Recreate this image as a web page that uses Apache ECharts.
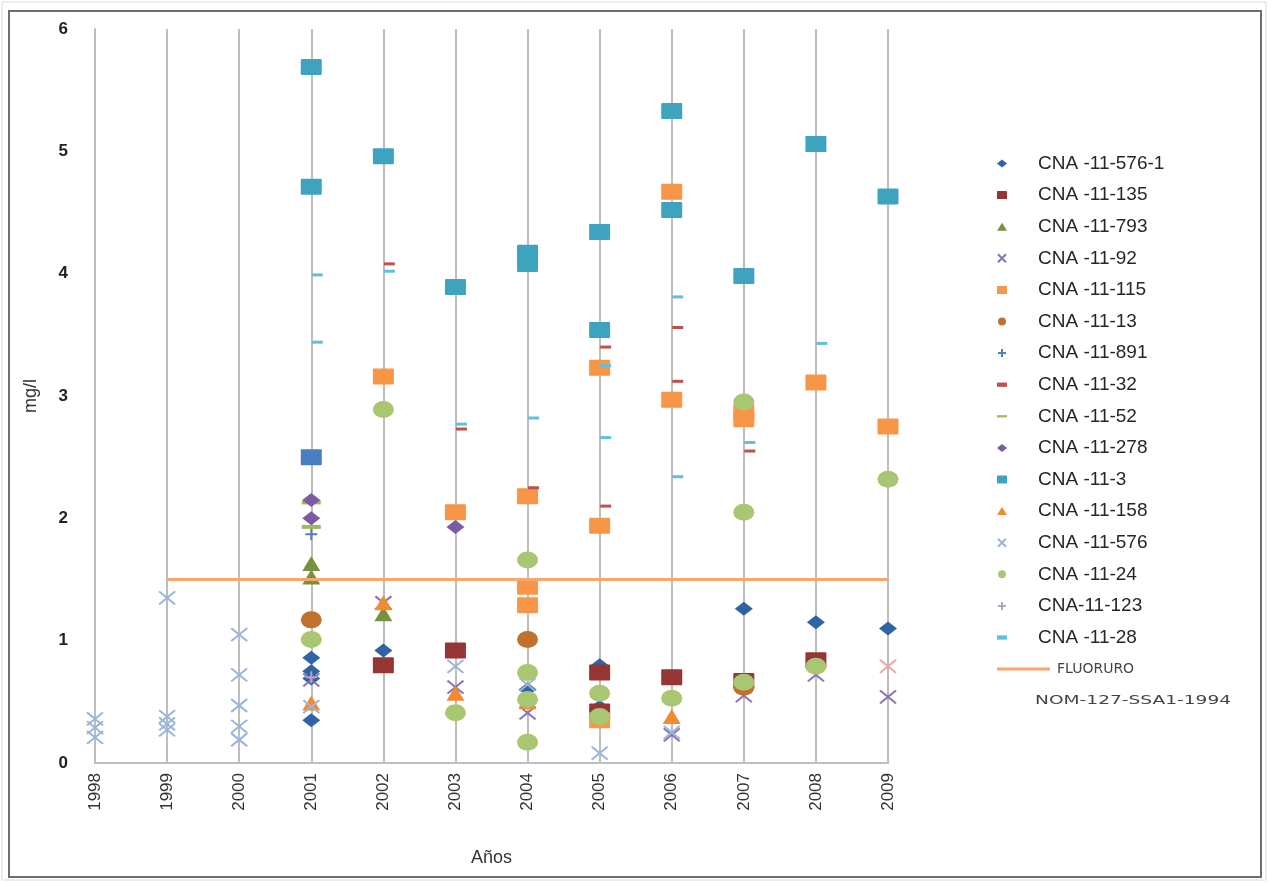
<!DOCTYPE html>
<html>
<head>
<meta charset="utf-8">
<script src="https://cdn.jsdelivr.net/npm/echarts@6/dist/echarts.min.js"></script>
<style>
  html, body { margin: 0; background: #fff; }
  #chart { width: 1269px; height: 883px; }
</style>
</head>
<body>
<div id="chart"></div>
<script>
// mediciones por pozo: [año, mg/l]
const cna576_1 = [[2001, 0.86], [2001, 0.75], [2001, 0.69], [2001, 0.35], [2002, 0.92], [2004, 0.6], [2005, 0.8], [2005, 0.46], [2007, 1.26], [2008, 1.15], [2009, 1.1]];
const cna135 = [[2002, 0.8], [2003, 0.92], [2005, 0.74], [2005, 0.42], [2006, 0.7], [2007, 0.67], [2008, 0.84]];
const cna793 = [[2001, 1.63], [2001, 1.52], [2002, 1.22]];
const cna92 = [[2001, 0.68], [2002, 1.31], [2003, 0.62], [2004, 0.41], [2006, 0.23], [2007, 0.55], [2008, 0.72], [2009, 0.54]];
const cna115 = [[2002, 3.16], [2003, 2.05], [2004, 2.18], [2004, 1.44], [2004, 1.29], [2005, 3.23], [2005, 1.94], [2005, 0.35], [2006, 4.67], [2006, 2.97], [2007, 2.87], [2007, 2.81], [2008, 3.11], [2009, 2.75]];
const cna13 = [[2001, 1.17], [2004, 1.01], [2007, 0.62]];
const cna891 = [[2001, 1.87]];
const cna32 = [[2002, 4.08], [2003, 2.73], [2004, 2.25], [2005, 3.4], [2005, 2.1], [2006, 3.56], [2006, 3.12], [2007, 2.55]];
const cna52 = [[2001, 2.13], [2001, 1.93]];
const cna278 = [[2001, 2.15], [2001, 2.0], [2003, 1.93]];
const cna3 = [[2001, 5.69], [2001, 4.71], [2002, 4.96], [2003, 3.89], [2004, 4.17], [2004, 4.08], [2005, 4.34], [2005, 3.54], [2006, 5.33], [2006, 4.52], [2007, 3.98], [2008, 5.06], [2009, 4.63]];
const cna3b = [[2001, 2.5]];
const cna158 = [[2001, 0.49], [2002, 1.31], [2003, 0.57], [2004, 0.5], [2006, 0.38]];
const cna576 = [[1998, 0.36], [1998, 0.29], [1998, 0.21], [1999, 1.35], [1999, 0.38], [1999, 0.32], [1999, 0.27], [2000, 1.05], [2000, 0.72], [2000, 0.47], [2000, 0.3], [2000, 0.19], [2001, 0.46], [2003, 0.79], [2004, 0.64], [2005, 0.08], [2006, 0.25]];
const cna24 = [[2001, 1.01], [2002, 2.89], [2003, 0.41], [2004, 1.66], [2004, 0.74], [2004, 0.52], [2004, 0.17], [2005, 0.57], [2005, 0.38], [2006, 0.53], [2007, 2.95], [2007, 2.05], [2007, 0.66], [2008, 0.79], [2009, 2.32]];
const cna24x = [[2009, 0.79]];
const cna123 = [[2001, 0.7]];
const cna28 = [[2001, 3.99], [2001, 3.44], [2002, 4.02], [2003, 2.77], [2004, 2.82], [2005, 3.25], [2005, 2.66], [2006, 3.81], [2006, 2.34], [2007, 2.62], [2008, 3.43]];
const fluoruro = [[1999, 1.5], [2009, 1.5]];

const yTicks = [0, 1, 2, 3, 4, 5, 6];
const yearMin = 1998;
const yearMax = 2009;

const CROSS = "path://M0,0L10,10M10,0L0,10";
const PLUS = "path://M5,0L5,10M0,5L10,5";

const shapes = {
  diamond: { symbol: "diamond", symbolSize: [18, 14] },
  square: { symbol: "path://M1,0H19Q20,0 20,1V15Q20,16 19,16H1Q0,16 0,15V1Q0,0 1,0Z", symbolSize: [21, 16] },
  triangle: { symbol: "triangle", symbolSize: [18, 15] },
  circle: { symbol: "circle", symbolSize: [21, 17] },
  cross: { symbol: CROSS, symbolSize: [16, 13], stroke: true },
  plus: { symbol: PLUS, symbolSize: [12, 12], stroke: true },
  dash: { symbol: "rect", symbolSize: [11, 3], symbolOffset: [6, 0], icon: "path://M0,0H7V3H0Z" },
  longDash: { symbol: "rect", symbolSize: [19, 4], icon: "path://M0,0H11V2.5H0Z" },
};

function points(name, data, shape, color) {
  const s = shapes[shape];
  return {
    name,
    type: "scatter",
    data,
    symbol: s.symbol,
    symbolSize: s.symbolSize,
    symbolKeepAspect: false,
    symbolOffset: s.symbolOffset || [0, 0],
    itemStyle: s.stroke
      ? { color, borderColor: color, borderWidth: 2, opacity: 1 }
      : { color, opacity: 1 },
    emphasis: { disabled: true },
  };
}

const series = [
  points("CNA -11-576-1", cna576_1, "diamond", "#2F63A6"),
  points("CNA -11-135", cna135, "square", "#963634"),
  points("CNA -11-793", cna793, "triangle", "#76923C"),
  points("CNA -11-92", cna92, "cross", "#8A72B0"),
  points("CNA -11-115", cna115, "square", "#F79646"),
  points("CNA -11-13", cna13, "circle", "#C0712E"),
  points("CNA -11-891", cna891, "plus", "#4F81BD"),
  points("CNA -11-32", cna32, "dash", "#C0504D"),
  points("CNA -11-52", cna52, "longDash", "#9BBB59"),
  points("CNA -11-278", cna278, "diamond", "#7C5BA6"),
  points("CNA -11-3", cna3, "square", "#3EA3BF"),
  points("CNA -11-3b", cna3b, "square", "#4A7EC2"),
  points("CNA -11-158", cna158, "triangle", "#F28A30"),
  points("CNA -11-576", cna576, "cross", "#9AB5DB"),
  points("CNA -11-24", cna24, "circle", "#A9C672"),
  points("CNA -11-24x", cna24x, "cross", "#E8A6A6"),
  points("CNA-11-123", cna123, "plus", "#B3A2C7"),
  points("CNA -11-28", cna28, "dash", "#62BEDB"),
  {
    name: "FLUORURO",
    type: "line",
    data: fluoruro,
    symbol: "none",
    showSymbol: false,
    lineStyle: { color: "#F8A56E", width: 3 },
    itemStyle: { color: "#F8A56E" },
    emphasis: { disabled: true },
  },
];

const legendNames = [
  "CNA -11-576-1", "CNA -11-135", "CNA -11-793", "CNA -11-92", "CNA -11-115",
  "CNA -11-13", "CNA -11-891", "CNA -11-32", "CNA -11-52", "CNA -11-278",
  "CNA -11-3", "CNA -11-158", "CNA -11-576", "CNA -11-24", "CNA-11-123", "CNA -11-28",
];
const legendShape = {
  "CNA -11-32": "dash", "CNA -11-52": "longDash", "CNA -11-28": "dash",
};

const font = "Liberation Sans";
const chart = echarts.init(document.getElementById("chart"));
chart.setOption({
  animation: false,
  backgroundColor: "#fff",
  grid: { left: 95, right: 381, top: 29, bottom: 120, containLabel: false, outerBoundsMode: "none" },
  xAxis: {
    type: "value",
    min: yearMin,
    max: yearMax,
    interval: 1,
    name: "Años",
    nameLocation: "middle",
    nameGap: 86,
    nameTextStyle: { fontFamily: font, fontSize: 18, color: "#333" },
    axisLine: { show: true, lineStyle: { color: "#BDBDBD", width: 2 } },
    axisTick: { show: false },
    splitLine: { show: true, lineStyle: { color: "#BDBDBD", width: 2 } },
    axisLabel: { rotate: 90, margin: 10, fontFamily: font, fontSize: 17, color: "#333", formatter: (v) => String(v) },
  },
  yAxis: {
    type: "value",
    min: yTicks[0],
    max: yTicks[yTicks.length - 1],
    interval: 1,
    name: "mg/l",
    nameLocation: "middle",
    nameGap: 55,
    nameRotate: 90,
    nameTextStyle: { fontFamily: font, fontSize: 18, color: "#333" },
    axisLine: { show: true, lineStyle: { color: "#BDBDBD", width: 2 } },
    axisTick: { show: false },
    splitLine: { show: false },
    axisLabel: { margin: 27, fontFamily: font, fontSize: 17, fontWeight: "bold", color: "#222" },
  },
  legend: [
    {
      orient: "vertical",
      left: 992,
      top: 149,
      itemWidth: 10,
      itemHeight: 8,
      itemGap: 12.6,
      data: legendNames.map((name) =>
        legendShape[name] ? { name, icon: shapes[legendShape[name]].icon } : name
      ),
      selectedMode: false,
      textStyle: { fontFamily: font, fontSize: 19, lineHeight: 19, color: "#262626", padding: [0, 0, 0, 26] },
    },
    {
      orient: "vertical",
      left: 992,
      top: 657,
      itemWidth: 53,
      itemHeight: 3,
      data: [{ name: "FLUORURO", icon: "rect" }],
      selectedMode: false,
      textStyle: { fontFamily: "DejaVu Sans", fontSize: 14, color: "#444", padding: [0, 0, 0, 2] },
    },
  ],
  graphic: [
    { type: "rect", silent: true, shape: { x: 2, y: 2, width: 1264, height: 878 }, style: { fill: "none", stroke: "#DADADA", lineWidth: 1 } },
    { type: "rect", silent: true, shape: { x: 9, y: 11, width: 1252, height: 866 }, style: { fill: "none", stroke: "#6E6E6E", lineWidth: 2 } },
    {
      type: "text",
      silent: true,
      left: 1035,
      top: 695,
      scaleX: 1.55,
      style: { text: "NOM-127-SSA1-1994", fontFamily: "DejaVu Sans", fontSize: 12, fill: "#444" },
    },
  ],
  series,
});
</script>
</body>
</html>
